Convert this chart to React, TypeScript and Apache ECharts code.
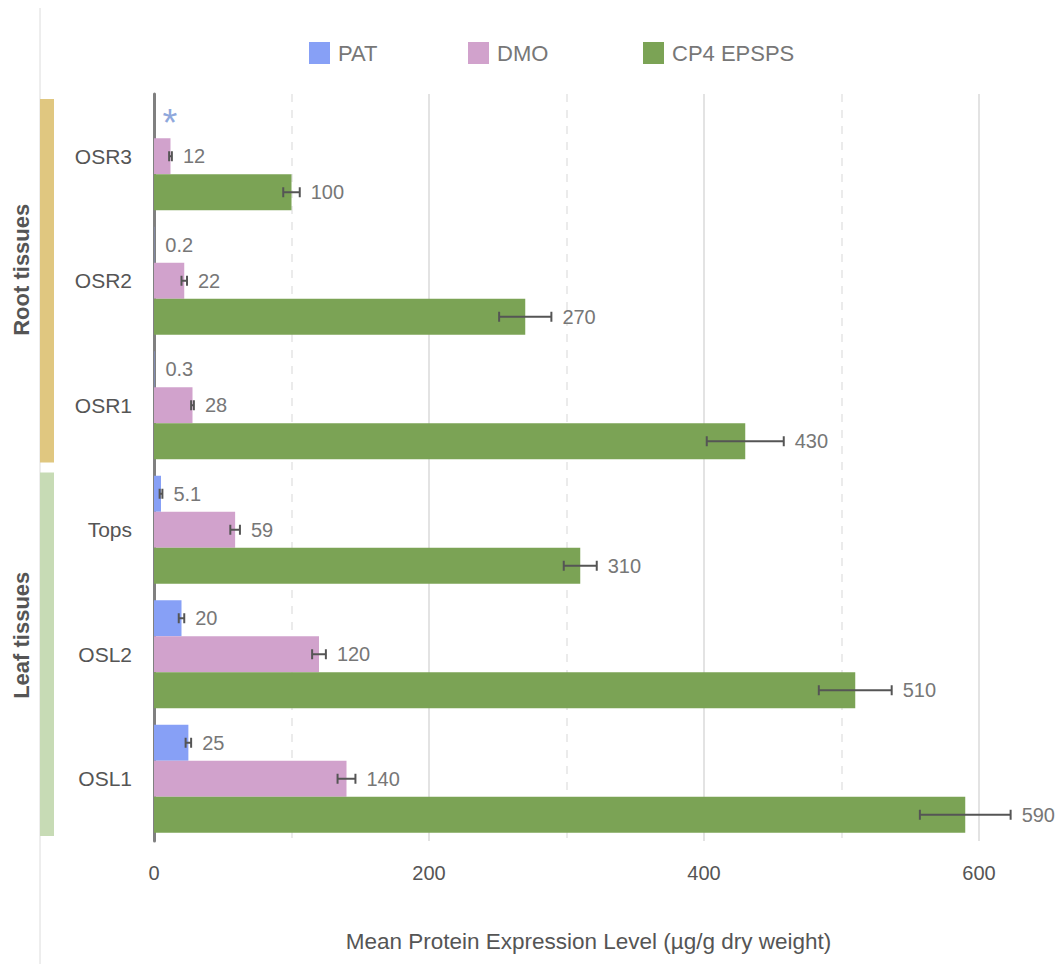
import React, { useEffect, useRef } from "react";
import * as echarts from "echarts";

// Tissues, top to bottom
const categories = ["OSR3", "OSR2", "OSR1", "Tops", "OSL2", "OSL1"];
const seriesNames = ["PAT", "DMO", "CP4 EPSPS"];
const seriesColors = ["#87a0f6", "#d1a2cc", "#7ba355"];

// Mean expression (µg/g dry weight) and standard deviation
const patValues = [0, 0.2, 0.3, 5.1, 20, 25];
const patErrors = [0, 0, 0, 1, 2, 2];
const patLabels = ["*", "0.2", "0.3", "5.1", "20", "25"];
const dmoValues = [12, 22, 28, 59, 120, 140];
const dmoErrors = [1, 2, 1, 3.5, 5, 6.5];
const dmoLabels = ["12", "22", "28", "59", "120", "140"];
const cp4Values = [100, 270, 430, 310, 510, 590];
const cp4Errors = [6, 19, 28, 12, 26.5, 33];
const cp4Labels = ["100", "270", "430", "310", "510", "590"];

const xMin = 0;
const xMax = 600;
const xInterval = 200;

const tissueGroups = [
  { name: "Root tissues", first: 0, last: 2 },
  { name: "Leaf tissues", first: 3, last: 5 },
];
const groupColors = ["#e0c780", "#c7dbb5"];
const groupTextShift = [-11, -19];
const legendLeft = [304, 463, 638];

const BAR_W = 36;
const FONT = "'Liberation Sans', Arial, sans-serif";

const allValues = [patValues, dmoValues, cp4Values];
const allErrors = [patErrors, dmoErrors, cp4Errors];
const allLabels = [patLabels, dmoLabels, cp4Labels];

export default function App() {
  const ref = useRef<HTMLDivElement>(null);

  useEffect(() => {
    document.body.style.margin = "0";
    if (!ref.current) return;
    const chart = echarts.init(ref.current, null, { renderer: "svg" });

    const barSeries = seriesNames.map((name, i) => ({
      name,
      type: "bar",
      data: allValues[i],
      barWidth: BAR_W,
      barGap: "0%",
      itemStyle: { color: seriesColors[i] },
      silent: true,
    }));

    const errData: number[][] = [];
    allValues.forEach((vals, s) => {
      vals.forEach((v, c) => errData.push([c, v, allErrors[s][c], s]));
    });

    const errorSeries = {
      type: "custom",
      silent: true,
      z: 5,
      encode: { x: 1, y: 0 },
      data: errData,
      renderItem: (params: any, api: any) => {
        const cat = api.value(0);
        const val = api.value(1);
        const err = api.value(2);
        const s = api.value(3);
        const center = api.coord([0, cat]);
        const y = center[1] + (s - 1) * BAR_W;
        const end = api.coord([val, cat])[0];
        const lo = api.coord([val - err, cat])[0];
        const hi = api.coord([val + err, cat])[0];
        const label = allLabels[s][cat];
        const children: any[] = [];
        const lineStyle = { stroke: "#555555", lineWidth: 2 };
        if (err > 0) {
          children.push(
            { type: "line", shape: { x1: lo, y1: y, x2: hi, y2: y }, style: lineStyle },
            { type: "line", shape: { x1: lo, y1: y - 5, x2: lo, y2: y + 5 }, style: lineStyle },
            { type: "line", shape: { x1: hi, y1: y - 5, x2: hi, y2: y + 5 }, style: lineStyle }
          );
        }
        if (label === "*") {
          children.push({
            type: "text",
            x: end + 16,
            y: y + 3,
            style: {
              text: "*",
              fill: "#8fa8dc",
              font: `38px ${FONT}`,
              align: "center",
              verticalAlign: "middle",
            },
          });
        } else {
          children.push({
            type: "text",
            x: (err > 0 ? hi : end) + 11,
            y: y,
            style: {
              text: label,
              fill: "#777777",
              font: `20px ${FONT}`,
              align: "left",
              verticalAlign: "middle",
            },
          });
        }
        return { type: "group", children };
      },
    };

    chart.setOption({
      animation: false,
      textStyle: { fontFamily: FONT },
      legend: seriesNames.map((name, i) => ({
        data: [name],
        left: legendLeft[i],
        top: 37,
        itemWidth: 21,
        itemHeight: 22,
        icon: "rect",
        textStyle: {
          fontSize: 22,
          color: "#777777",
          fontFamily: FONT,
          padding: [0, 0, 0, 3],
        },
      })),
      grid: { left: 154, right: 78, top: 94, bottom: 123 },
      xAxis: {
        type: "value",
        min: xMin,
        max: xMax,
        interval: xInterval,
        name: "Mean Protein Expression Level (µg/g dry weight)",
        nameLocation: "middle",
        nameGap: 89,
        nameTextStyle: {
          fontSize: 22.5,
          color: "#555555",
          fontFamily: FONT,
          padding: [0, 0, 0, 44],
        },
        axisLine: { show: false },
        axisTick: { show: false },
        axisLabel: { fontSize: 20, color: "#555555", margin: 22 },
        splitLine: { show: true, lineStyle: { color: "#e3e3e3", width: 2 } },
        minorTick: { show: false, splitNumber: 2 },
        minorSplitLine: { show: true, lineStyle: { color: "#ebebeb", width: 2, type: [8, 8] } },
      },
      yAxis: {
        type: "category",
        data: categories,
        inverse: true,
        axisLine: { show: true, lineStyle: { color: "#808080", width: 3 } },
        axisTick: { show: false },
        axisLabel: { fontSize: 21, color: "#555555", margin: 22 },
      },
      series: [...barSeries, errorSeries],
    });

    // Tissue group brackets on the left
    const c0 = chart.convertToPixel({ yAxisIndex: 0 }, categories[0]) as number;
    const c1 = chart.convertToPixel({ yAxisIndex: 0 }, categories[1]) as number;
    const band = c1 - c0;
    const graphics: any[] = [
      {
        type: "line",
        shape: { x1: 40, y1: 8, x2: 40, y2: 964 },
        style: { stroke: "#dcdcdc", lineWidth: 1 },
      },
    ];
    tissueGroups.forEach((g, i) => {
      const top = (chart.convertToPixel({ yAxisIndex: 0 }, categories[g.first]) as number) - band / 2 + 5;
      const bottom = (chart.convertToPixel({ yAxisIndex: 0 }, categories[g.last]) as number) + band / 2 - 5;
      graphics.push({
        type: "rect",
        shape: { x: 40, y: top, width: 14, height: bottom - top },
        style: { fill: groupColors[i] },
      });
      graphics.push({
        type: "text",
        x: 21,
        y: (top + bottom) / 2 + groupTextShift[i],
        rotation: Math.PI / 2,
        style: {
          text: g.name,
          fill: "#555555",
          font: `bold 22px ${FONT}`,
          align: "center",
          verticalAlign: "middle",
        },
      });
    });
    chart.setOption({ graphic: graphics });

    return () => chart.dispose();
  }, []);

  return <div ref={ref} style={{ width: 1057, height: 964 }} />;
}
